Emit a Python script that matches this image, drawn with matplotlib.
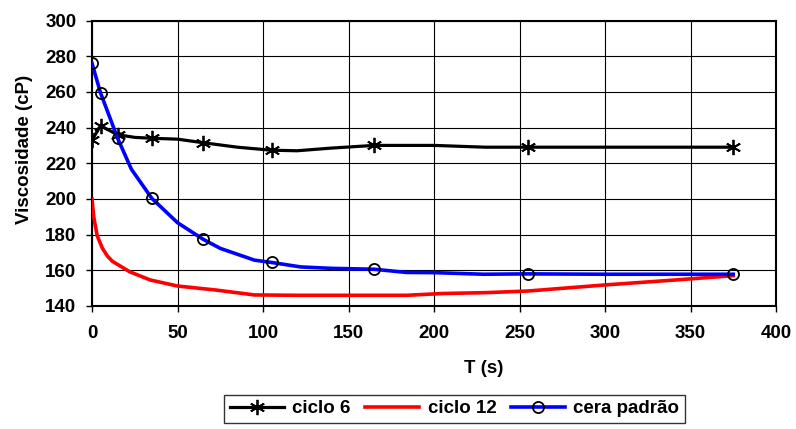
import numpy as np
import matplotlib
matplotlib.use("Agg")
import matplotlib.pyplot as plt

plt.rcParams['font.family'] = ['Liberation Sans', 'DejaVu Sans']
plt.rcParams['font.weight'] = 'bold'

# ciclo 6 (markers at the measured points)
t6 = [0, 5, 15, 25, 35, 50, 65, 85, 105, 120, 140, 165, 200, 230, 255, 375]
v6 = [233, 241, 236, 234.5, 234, 233.5, 231.5, 229, 227.3, 227, 228.5, 230, 230, 229, 229, 229]
mk6 = [0, 1, 2, 4, 6, 8, 11, 14, 15]

# ciclo 12
t12 = [0, 1, 3, 6, 9, 12, 22, 34, 50, 72, 95, 120, 150, 184, 205, 231, 255, 300, 340, 375]
v12 = [200, 190, 179.5, 172.5, 168, 165, 159.2, 154.6, 151.2, 149, 146.2, 146, 146, 146,
       147, 147.5, 148.4, 151.8, 154.5, 157]

# cera padrao
tc = [0, 5, 15, 23, 35, 50, 65, 75, 95, 105, 122, 140, 165, 184, 200, 229, 255, 300, 375]
vc = [276, 259.4, 234, 216.7, 200.3, 186.7, 177.4, 172.3, 165.7, 164.4, 161.9, 161.1,
      160.6, 158.8, 158.7, 157.8, 158, 157.8, 157.8]
mkc = [0, 1, 2, 4, 6, 9, 12, 16, 18]

FS = 13.5

fig = plt.figure(figsize=(7.96, 4.29), dpi=100)
ax = fig.add_axes([92/796, 1 - 306/429, 684/796, 285.5/429])

ax.plot(t6, v6, color='black', lw=2.3, marker=(6, 2, 0), ms=11, mew=1.3,
        markevery=mk6, label='ciclo 6', zorder=3)
ax.plot(t12, v12, color='#ff0000', lw=2.6, label='ciclo 12', zorder=3)
ax.plot(tc, vc, color='#0000ff', lw=2.6, marker='o', ms=8, mfc='none', mec='black',
        mew=1.3, markevery=mkc, label='cera padrão', zorder=4)

ax.set_xlim(0, 400)
ax.set_ylim(140, 300)
ax.set_xticks(np.arange(0, 401, 50))
ax.set_yticks(np.arange(140, 301, 20))
ax.grid(True, color='black', lw=0.8)
ax.set_axisbelow(True)
for s in ax.spines.values():
    s.set_linewidth(1.5)
ax.tick_params(direction='out', length=4.3, width=1, labelsize=FS)
ax.tick_params(axis='x', pad=9.5)
ax.tick_params(axis='y', pad=7)
for lab in ax.get_xticklabels() + ax.get_yticklabels():
    lab.set_fontweight('bold')

ax.set_xlabel('T (s)', fontsize=FS, fontweight='bold')
ax.set_ylabel('Viscosidade (cP)', fontsize=FS, fontweight='bold')
ax.xaxis.set_label_coords(0.572, -0.188)
ax.yaxis.set_label_coords(-0.086, 0.55)

leg = fig.legend(loc='lower center', bbox_to_anchor=(0.571, 0.005), ncol=3,
                 frameon=True, fancybox=False, edgecolor='black',
                 handlelength=2.9, columnspacing=0.75, handletextpad=0.45,
                 borderpad=0.3, borderaxespad=0.2, prop={'weight': 'bold', 'size': FS})
leg.get_frame().set_linewidth(1.0)

fig.savefig('out.png', dpi=100)
